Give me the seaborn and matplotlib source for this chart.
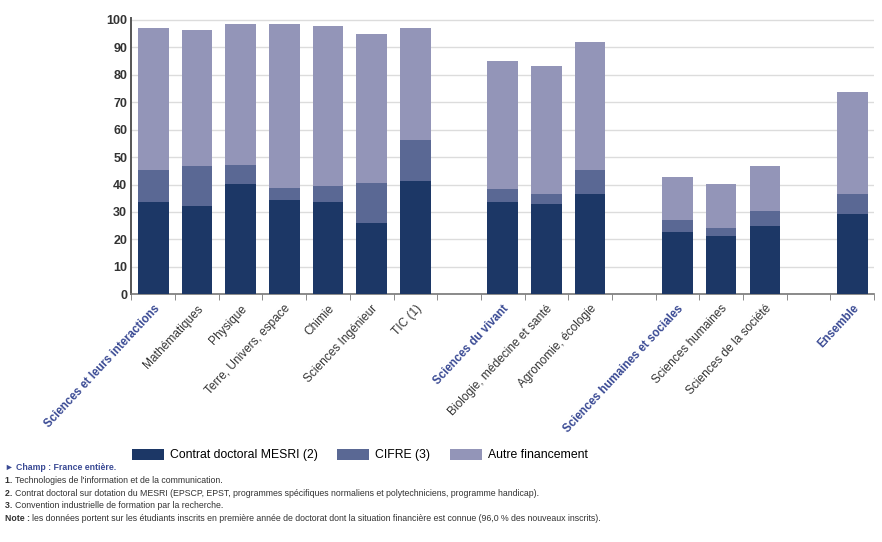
import numpy as np
import pandas as pd
import matplotlib.pyplot as plt
import seaborn as sns
from matplotlib.patches import Patch

# categories by group, the first item of each group is the group header
groups = [
    ["Sciences et leurs interactions", "Mathématiques", "Physique",
     "Terre, Univers, espace", "Chimie", "Sciences Ingénieur", "TIC (1)"],
    ["Sciences du vivant", "Biologie, médecine et santé", "Agronomie, écologie"],
    ["Sciences humaines et sociales", "Sciences humaines", "Sciences de la société"],
    ["Ensemble"],
]
headers = [g[0] for g in groups]
categories = [c for g in groups for c in g]

# shares in %
mesri = [33.8, 32.0, 40.2, 34.4, 33.8, 25.9, 41.4, 33.8, 33.0, 36.6, 22.7, 21.2, 24.9, 29.3]
cifre = [11.5, 14.6, 6.9, 4.2, 5.5, 14.7, 14.8, 4.6, 3.6, 8.7, 4.2, 3.1, 5.4, 7.3]
autre = [51.7, 49.6, 51.4, 59.8, 58.3, 54.4, 40.8, 46.5, 46.4, 46.6, 16.0, 15.8, 16.5, 37.2]

series_names = ["Contrat doctoral MESRI (2)", "CIFRE (3)", "Autre financement"]
colors = ["#1c3766", "#5a6894", "#9395b8"]

# order with empty slots between groups
order = []
for i, g in enumerate(groups):
    if i > 0:
        order.append(" " * i)
    order.extend(g)

df = pd.DataFrame({"cat": categories, "mesri": mesri, "cifre": cifre, "autre": autre})
df["c1"] = df["mesri"]
df["c2"] = df["mesri"] + df["cifre"]
df["c3"] = df["c2"] + df["autre"]

plt.rcParams["font.family"] = ["Liberation Sans", "DejaVu Sans"]

fig = plt.figure(figsize=(8.82, 5.42), dpi=100)
ax = fig.add_axes([0.149, 0.457, 0.842, 0.509])

for col, c in zip(["c3", "c2", "c1"], colors[::-1]):
    sns.barplot(data=df, x="cat", y=col, order=order, color=c, width=0.7,
                saturation=1, ax=ax, zorder=3)

ax.set_ylim(0, 100.5)
ax.set_xlim(-0.5, len(order) - 0.5)
ax.set_yticks(range(0, 101, 10))
ax.yaxis.grid(True, color="#dcdcdc", linewidth=1, zorder=0)
ax.set_axisbelow(True)
for s in ["top", "right"]:
    ax.spines[s].set_visible(False)
ax.spines["left"].set_color("#555555")
ax.spines["left"].set_linewidth(1.4)
ax.spines["bottom"].set_color("#777777")
ax.spines["bottom"].set_linewidth(1.2)
ax.set_xlabel("")
ax.set_ylabel("")

ax.tick_params(axis="y", length=0, pad=3, labelsize=9, labelcolor="#333333")
for t in ax.get_yticklabels():
    t.set_fontweight("bold")

ax.set_xticks(np.arange(-0.5, len(order), 1), minor=True)
ax.tick_params(axis="x", which="minor", length=4, direction="out", color="#777777")
ax.tick_params(axis="x", which="major", length=0, pad=6)
ax.set_xticks(range(len(order)))
labels = ax.set_xticklabels([o.strip() for o in order], rotation=47, ha="right",
                            va="top", rotation_mode="anchor", fontsize=8.6)
for t in labels:
    if t.get_text() in headers:
        t.set_color("#3a4a94")
        t.set_fontweight("bold")
        t.set_fontsize(8.3)
    else:
        t.set_color("#333333")

handles = [Patch(facecolor=c, edgecolor="none") for c in colors]
fig.legend(handles, series_names, loc="center", bbox_to_anchor=(0.408, 1 - 455 / 542),
           ncol=3, frameon=False, fontsize=8.8, handlelength=2.6, handleheight=1.0,
           columnspacing=1.6, handletextpad=0.5)

notes = [
    ("► Champ : France entière.", "", "#3a4a94"),
    ("1. ", "Technologies de l'information et de la communication.", "#333333"),
    ("2. ", "Contrat doctoral sur dotation du MESRI (EPSCP, EPST, programmes spécifiques "
     "normaliens et polytechniciens, programme handicap).", "#333333"),
    ("3. ", "Convention industrielle de formation par la recherche.", "#333333"),
    ("Note : ", "les données portent sur les étudiants inscrits en première année de doctorat "
     "dont la situation financière est connue (96,0 % des nouveaux inscrits).", "#333333"),
]
renderer = fig.canvas.get_renderer()
for i, (head, rest, col) in enumerate(notes):
    y = 1 - (468 + 12.6 * i) / 542
    t = fig.text(5 / 882, y, head, color=col, fontweight="bold", fontsize=6.3,
                 va="center", ha="left")
    if rest:
        x1 = t.get_window_extent(renderer).x1 / fig.bbox.width
        fig.text(x1, y, rest, color=col, fontsize=6.3, va="center", ha="left")

fig.savefig("out.png", dpi=100)
